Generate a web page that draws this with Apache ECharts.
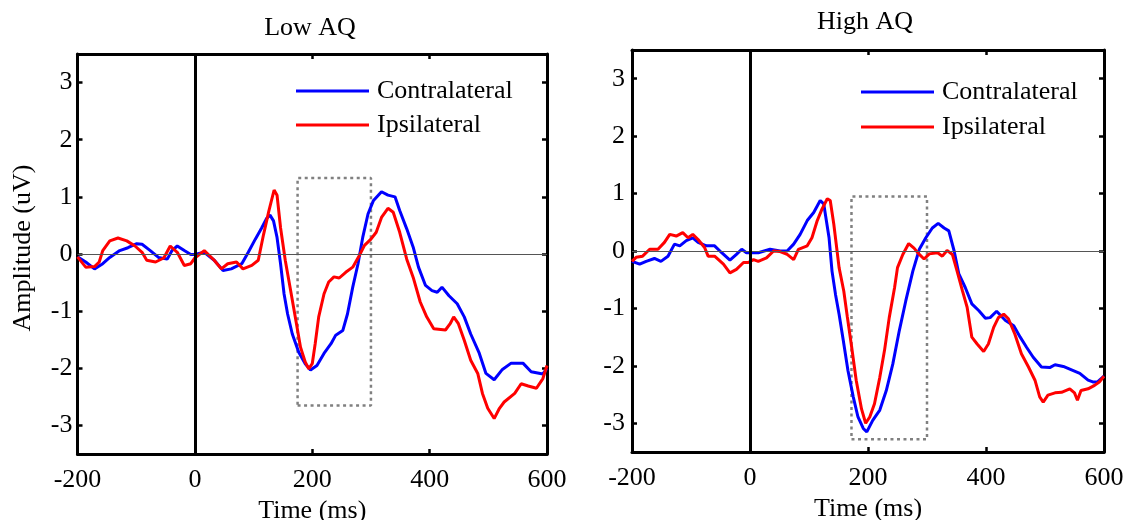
<!DOCTYPE html>
<html><head><meta charset="utf-8">
<script src="https://cdn.jsdelivr.net/npm/echarts@6/dist/echarts.min.js"></script>
<style>html,body{margin:0;padding:0;background:#fff}#c{width:1134px;height:520px}</style>
</head><body><div id="c"></div><script>
const FONT = 'Liberation Serif';
const panelTitles = ['Low AQ', 'High AQ'];
const seriesNames = ['Contralateral', 'Ipsilateral'];
const xAxisName = 'Time (ms)';
const yAxisName = 'Amplitude (uV)';
const xTicks = [-200, 0, 200, 400, 600];
const yTicks = [-3, -2, -1, 0, 1, 2, 3];

// Low AQ – Contralateral
const lowContraT = [-200,-186,-171,-157,-145,-128,-114,-99,-90,-76,-62,-47,-39,-30,-18,-7,0,16,33,48,62,80,91,103,114,122,128,134,140,146,152,158,166,177,188,197,208,220,232,240,252,260,269,278,286,295,304,318,329,341,349,361,372,381,393,404,413,421,433,447,459,470,484,496,510,524,539,559,573,593,600];
const lowContraV = [-0.05,-0.14,-0.26,-0.17,-0.06,0.06,0.11,0.18,0.17,0.06,-0.06,-0.09,0.06,0.14,0.06,-0.01,-0.01,0.03,-0.11,-0.29,-0.26,-0.17,0.03,0.26,0.46,0.62,0.68,0.58,0.29,-0.17,-0.7,-1.05,-1.40,-1.72,-1.92,-2.03,-1.95,-1.74,-1.57,-1.42,-1.34,-1.05,-0.58,-0.17,0.29,0.70,0.93,1.09,1.03,1.00,0.76,0.44,0.12,-0.23,-0.55,-0.64,-0.67,-0.58,-0.73,-0.87,-1.10,-1.40,-1.72,-2.09,-2.20,-2.02,-1.91,-1.91,-2.06,-2.10,-2.00];
// Low AQ – Ipsilateral
const lowIpsiT = [-200,-186,-171,-163,-157,-145,-131,-116,-102,-90,-82,-67,-53,-42,-30,-18,-7,0,16,33,45,56,71,82,97,108,117,126,135,140,146,154,163,171,180,188,194,200,205,211,220,228,237,246,257,269,280,289,300,309,318,329,338,349,361,372,384,395,407,427,435,441,449,459,470,482,490,499,510,519,527,545,556,568,582,593,600];
const lowIpsiV = [-0.05,-0.23,-0.22,-0.14,0.06,0.23,0.28,0.23,0.14,0.03,-0.11,-0.14,-0.07,0.14,0.03,-0.20,-0.17,-0.07,0.06,-0.11,-0.26,-0.17,-0.14,-0.26,-0.2,-0.11,0.34,0.75,1.12,1.03,0.46,-0.11,-0.63,-1.10,-1.63,-1.89,-2.01,-1.92,-1.57,-1.10,-0.70,-0.49,-0.40,-0.42,-0.32,-0.23,-0.03,0.15,0.26,0.38,0.64,0.80,0.73,0.38,-0.09,-0.41,-0.84,-1.10,-1.31,-1.33,-1.22,-1.10,-1.22,-1.51,-1.86,-2.09,-2.44,-2.70,-2.88,-2.70,-2.59,-2.44,-2.27,-2.31,-2.35,-2.18,-1.95];
// High AQ – Contralateral
const highContraT = [-200,-187,-176,-162,-151,-139,-128,-119,-108,-97,-88,-74,-60,-48,-34,-23,-14,-6,0,14,34,51,63,74,85,97,108,119,125,134,139,145,151,158,166,175,183,192,198,208,220,231,242,253,264,276,287,298,309,319,329,337,346,354,365,376,388,399,407,418,433,447,458,469,480,494,508,517,531,545,559,573,581,589,600];
const highContraV = [-0.18,-0.23,-0.18,-0.13,-0.18,-0.09,0.12,0.09,0.18,0.23,0.15,0.09,0.09,-0.03,-0.16,-0.06,0.03,-0.03,-0.03,-0.03,0.03,0,0,0.12,0.29,0.53,0.67,0.88,0.82,0.23,-0.35,-0.76,-1.1,-1.55,-2.08,-2.54,-2.89,-3.09,-3.15,-2.95,-2.77,-2.43,-1.97,-1.39,-0.87,-0.35,0.03,0.23,0.40,0.48,0.40,0.35,0,-0.40,-0.64,-0.92,-1.04,-1.17,-1.16,-1.05,-1.21,-1.30,-1.50,-1.68,-1.85,-2.02,-2.03,-1.98,-2.01,-2.07,-2.13,-2.25,-2.28,-2.28,-2.18];
// High AQ – Ipsilateral
const highIpsiT = [-200,-193,-182,-170,-156,-145,-136,-125,-114,-105,-97,-88,-77,-71,-60,-45,-34,-23,-11,-3,6,14,28,40,51,63,74,82,97,105,114,122,131,136,142,151,159,165,172,180,189,196,203,211,220,228,236,245,250,259,269,278,287,295,304,318,326,334,343,351,360,368,376,385,396,404,413,421,430,438,449,460,472,483,491,497,505,517,528,542,550,555,561,573,584,592,600];
const highIpsiV = [-0.18,-0.11,-0.09,0.03,0.03,0.15,0.29,0.26,0.32,0.23,0.29,0.2,0.06,-0.09,-0.09,-0.23,-0.38,-0.32,-0.20,-0.2,-0.15,-0.18,-0.12,0,-0.01,-0.06,-0.15,0.03,0.09,0.23,0.53,0.73,0.91,0.88,0.47,-0.29,-0.7,-1.15,-1.65,-2.25,-2.75,-3.0,-2.89,-2.66,-2.20,-1.73,-1.16,-0.64,-0.29,-0.06,0.13,0.05,-0.06,-0.14,-0.05,-0.03,-0.09,0.01,-0.06,-0.35,-0.69,-0.98,-1.50,-1.62,-1.75,-1.62,-1.33,-1.16,-1.10,-1.18,-1.45,-1.79,-2.02,-2.25,-2.54,-2.63,-2.51,-2.47,-2.46,-2.40,-2.47,-2.60,-2.43,-2.40,-2.34,-2.28,-2.18];

// dotted analysis windows [start, end] in ms and [bottom, top] in uV
const lowBoxT = [175, 300];
const lowBoxV = [-2.65, 1.33];
const highBoxT = [172, 300];
const highBoxV = [-3.28, 0.95];

const pairs = (t, v) => t.map((x, i) => [x, v[i]]);
const boxPath = (t, v) => [[t[0], v[0]], [t[1], v[0]], [t[1], v[1]], [t[0], v[1]], [t[0], v[0]]];

const grids = [
  { left: 77.5, top: 54, width: 469.5, height: 400, containLabel: false, outerBoundsMode: 'none' },
  { left: 632, top: 50, width: 472, height: 402, containLabel: false, outerBoundsMode: 'none' }
];
const panels = [
  { contra: pairs(lowContraT, lowContraV), ipsi: pairs(lowIpsiT, lowIpsiV), box: boxPath(lowBoxT, lowBoxV) },
  { contra: pairs(highContraT, highContraV), ipsi: pairs(highIpsiT, highIpsiV), box: boxPath(highBoxT, highBoxV) }
];

const txt = { fontFamily: FONT, fontSize: 26, color: '#000' };
const xAxes = [], yAxes = [], series = [];
grids.forEach((g, gi) => {
  const common = { gridIndex: gi, type: 'value', min: xTicks[0], max: xTicks[xTicks.length - 1], interval: 200, splitLine: { show: false },
    axisLine: { onZero: false, lineStyle: { color: '#000', width: 3 } },
    axisTick: { inside: true, length: 5, lineStyle: { color: '#000', width: 2.5 } } };
  xAxes.push(Object.assign({}, common, { position: 'bottom', axisLabel: Object.assign({ margin: 13 }, txt),
    name: xAxisName, nameLocation: 'middle', nameGap: 42, nameTextStyle: txt }));
  xAxes.push(Object.assign({}, common, { position: 'top', axisLabel: { show: false } }));
  const ycommon = { gridIndex: gi, type: 'value', min: -3.5, max: 3.5, splitLine: { show: false },
    axisLine: { onZero: false, lineStyle: { color: '#000', width: 3 } },
    axisTick: { inside: true, length: 5, customValues: yTicks, lineStyle: { color: '#000', width: 2.5 } } };
  yAxes.push(Object.assign({}, ycommon, { position: 'left',
    axisLabel: Object.assign({ margin: gi === 0 ? 5 : 7, customValues: yTicks }, txt) }));
  yAxes.push(Object.assign({}, ycommon, { position: 'right', axisLabel: { show: false } }));

  const xi = gi * 2, yi = gi * 2;
  series.push({
    type: 'line', xAxisIndex: xi, yAxisIndex: yi, data: panels[gi].box, symbol: 'none', silent: true, z: 1,
    lineStyle: { color: '#808080', width: 2.5, type: [3, 3.5] },
    markLine: { silent: true, symbol: ['none', 'none'], label: { show: false }, animation: false,
      data: [
        { yAxis: 0, lineStyle: { color: '#555', width: 1.2, type: 'solid' } },
        { xAxis: 0, lineStyle: { color: '#000', width: 3, type: 'solid' } }
      ] }
  });
  series.push({ name: seriesNames[0], type: 'line', xAxisIndex: xi, yAxisIndex: yi, data: panels[gi].contra,
    symbol: 'none', z: 3, color: '#0000ff', lineStyle: { color: '#0000ff', width: 3 } });
  series.push({ name: seriesNames[1], type: 'line', xAxisIndex: xi, yAxisIndex: yi, data: panels[gi].ipsi,
    symbol: 'none', z: 4, color: '#ff0000', lineStyle: { color: '#ff0000', width: 3 } });
});

const legendBase = { orient: 'vertical', icon: 'rect', itemWidth: 73, itemHeight: 3, data: seriesNames,
  textStyle: Object.assign({ lineHeight: 26, padding: [0, 0, 0, 3] }, txt), selectedMode: false };

const chart = echarts.init(document.getElementById('c'), null, { renderer: 'canvas' });
chart.setOption({
  animation: false,
  backgroundColor: '#fff',
  grid: grids,
  xAxis: xAxes,
  yAxis: yAxes,
  legend: [
    Object.assign({}, legendBase, { left: 291, top: 73, itemGap: 8 }),
    Object.assign({}, legendBase, { left: 856, top: 74, itemGap: 9 })
  ],
  graphic: [
    { type: 'text', x: 310, y: 28, style: { text: panelTitles[0], textAlign: 'center', textVerticalAlign: 'middle', font: '26px "Liberation Serif"', fill: '#000' } },
    { type: 'text', x: 865, y: 22, style: { text: panelTitles[1], textAlign: 'center', textVerticalAlign: 'middle', font: '26px "Liberation Serif"', fill: '#000' } },
    { type: 'text', x: 23, y: 248, rotation: Math.PI / 2, style: { text: yAxisName, textAlign: 'center', textVerticalAlign: 'middle', font: '26px "Liberation Serif"', fill: '#000' } }
  ],
  series: series
});
</script></body></html>
